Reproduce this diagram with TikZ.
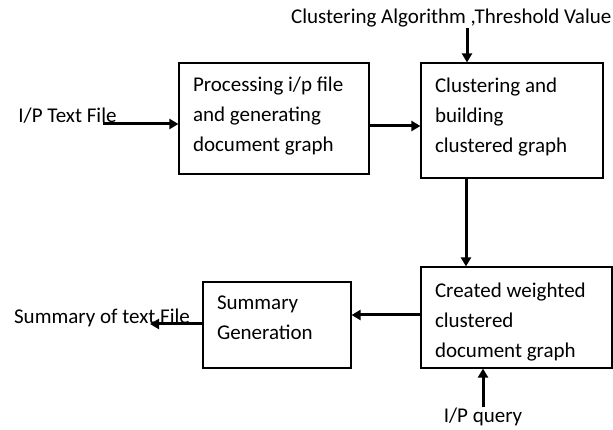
\documentclass[tikz,border=0pt]{standalone}
\usepackage{fontspec}
\setmainfont{Carlito}
\usetikzlibrary{arrows.meta,positioning}
\tikzset{every picture/.style={line width=1.2pt}}
\tikzstyle{blk}=[draw,align=flush left,inner xsep=14pt,inner ysep=4pt,text height=15pt]
\tikzstyle{lbl}=[inner sep=0pt]
\begin{document}
\begin{tikzpicture}
  [x=1pt,y=1pt,font=\fontsize{21}{30}\selectfont,>={Triangle[length=9pt,width=10pt]}]
\useasboundingbox (0,0) rectangle (613,430);
\node[blk,minimum width=190pt,minimum height=111pt,text width=162pt,text depth=68pt] (proc) at (274,311.5) {Processing i/p file\\and generating\\document graph};
\node[blk,minimum width=182pt,minimum height=115pt,text width=154pt,text depth=70pt] (clus) at (512,309.5) {Clustering and\\building\\clustered graph};
\node[blk,minimum width=191pt,minimum height=101pt,text width=163pt,text depth=54pt] (weigh) at (516.5,112.5) {Created weighted\\clustered\\document graph};
\node[blk,minimum width=148pt,minimum height=86pt,text width=120pt,text depth=45pt] (summ) at (277,105) {Summary\\Generation};
\node[lbl] (intext) at (67.5,314) {I/P Text File};
\node[lbl,anchor=east] (algo) at (612,412) {Clustering Algorithm ,Threshold Value};
\node[lbl] (outtext) at (102,112) {Summary of text File};
\node[lbl] (query) at (483,13) {I/P query};
\coordinate (in) at (103,306);
\coordinate (out) at (150,106);
\path[->,line width=3pt]
(in) edge (in -| proc.west)
([yshift=-7.5pt]proc.east) edge ([yshift=-7.5pt]proc.east -| clus.west)
([xshift=-45pt]algo.south -| clus.north) edge ([xshift=-45pt]clus.north)
([xshift=-46pt]clus.south) edge ([xshift=-46pt]clus.south |- weigh.north)
([yshift=2.5pt]weigh.west) edge ([yshift=2.5pt]weigh.west -| summ.east)
([yshift=1pt]summ.west) edge (out)
([xshift=-33.5pt]weigh.south |- query.north) edge ([xshift=-33.5pt]weigh.south);
\end{tikzpicture}
\end{document}
